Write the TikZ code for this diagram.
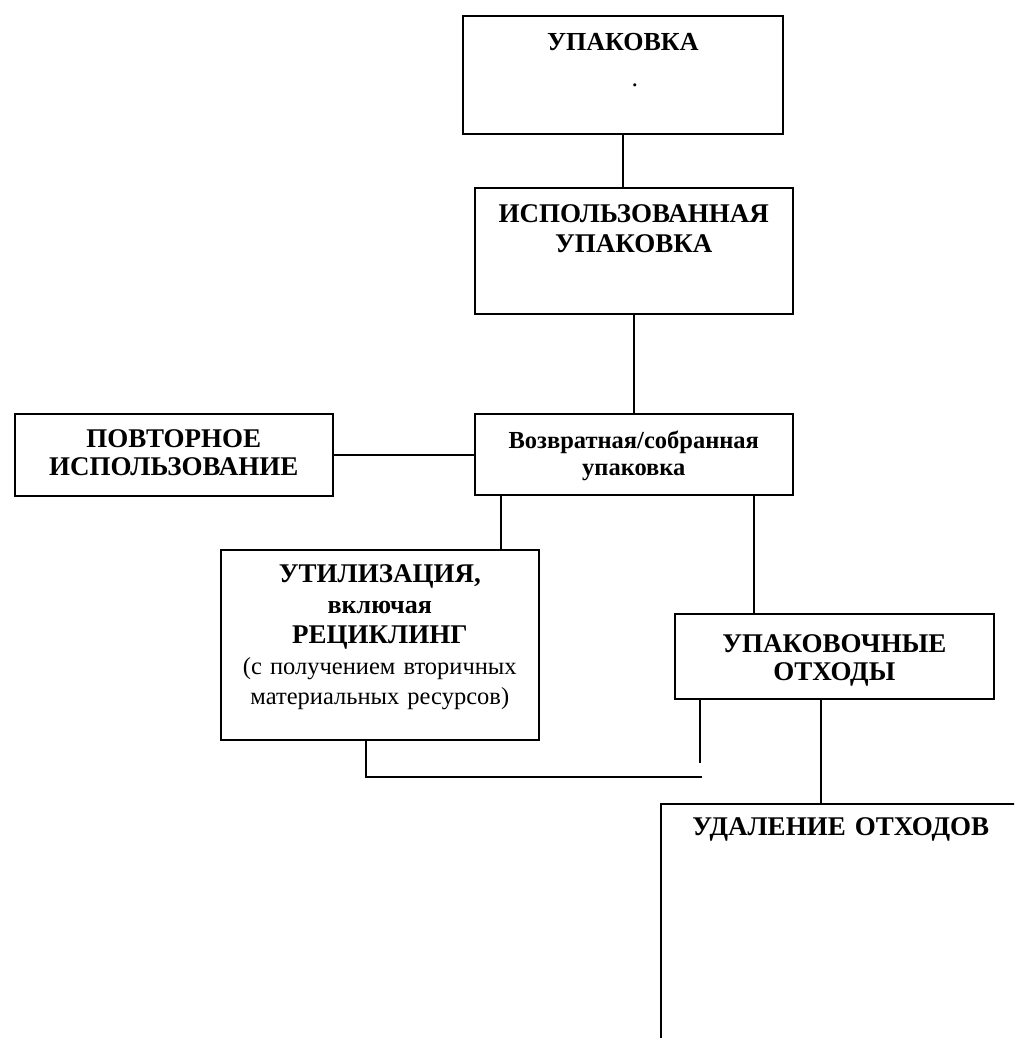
\documentclass[tikz,border=0pt]{standalone}
\usepackage{fontspec}
\setmainfont{Liberation Serif}
\usetikzlibrary{positioning}

\tikzset{
    box/.style={draw, line width=1.6pt, anchor=north west, align=center,
        inner xsep=0pt, inner ysep=0pt, font=\bfseries\fontsize{27}{30}\selectfont},
    link/.style={line width=1.6pt}
}

\begin{document}
\begin{tikzpicture}[x=1pt, y=-1pt]
    \useasboundingbox (0,0) rectangle (1014,1038);
    \clip (0,0) rectangle (1014,1038);
    \node[box, text width=320pt, text height=35pt, text depth=83pt,
        font=\bfseries\fontsize{26}{30}\selectfont] (upak) at (462,15)
        {УПАКОВКА\\[6pt]{\mdseries\hspace*{24pt}.}};
    \node[box, text width=318pt, text height=35pt, text depth=91pt] (isp) at (474,187)
        {ИСПОЛЬЗОВАННАЯ\\УПАКОВКА};
    \node[box, text width=318pt, text height=35pt, text depth=46pt,
        font=\bfseries\fontsize{24.5}{27}\selectfont] (vozv) at (474,413)
        {Возвратная/собранная\\упаковка};
    \node[box, text width=318pt, text height=34pt, text depth=48pt,
        font=\bfseries\fontsize{27}{28}\selectfont] (povt) at (14,413)
        {ПОВТОРНОЕ\\ИСПОЛЬЗОВАНИЕ};
    \node[box, text width=318pt, text height=33pt, text depth=157pt,
        font=\fontsize{24.5}{30.5}\selectfont] (util) at (220,549)
        {\textbf{\fontsize{27}{30.5}\selectfont УТИЛИЗАЦИЯ,}\\\textbf{\fontsize{26}{30.5}\selectfont включая}\\
         \textbf{\fontsize{27}{30.5}\selectfont РЕЦИКЛИНГ}\\(с получением вторичных\\материальных ресурсов)};
    \node[box, text width=319pt, text height=39pt, text depth=46pt,
        font=\bfseries\fontsize{27}{28}\selectfont] (othod) at (674,613)
        {УПАКОВОЧНЫЕ\\ОТХОДЫ};
    \node[box, text width=360pt, text height=32pt, text depth=215pt] (udal) at (660,803)
        {УДАЛЕНИЕ ОТХОДОВ};

    \coordinate (vu) at (501,494);
    \coordinate (vo) at (754,494);
    \coordinate (ub) at (366,777);
    \coordinate (ue) at (702,777);
    \coordinate (oe) at (700,763);
    \coordinate (ou) at (821,698);

    \draw[link] (upak.south) -- (upak.south |- isp.north);
    \draw[link] (isp.south) -- (isp.south |- vozv.north);
    \draw[link] (povt.east) -- (povt.east -| vozv.west);
    \draw[link] (vu) -- (vu |- util.north);
    \draw[link] (vo) -- (vo |- othod.north);
    \draw[link] (util.south -| ub) -- (ub) -- (ue);
    \draw[link] (othod.south -| oe) -- (oe);
    \draw[link] (ou) -- (ou |- udal.north);
\end{tikzpicture}
\end{document}
